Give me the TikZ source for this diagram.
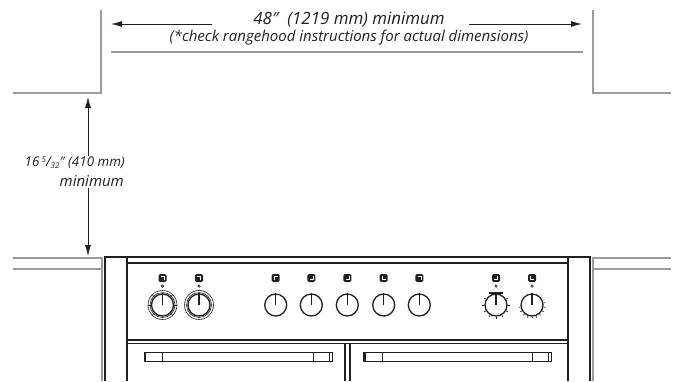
\documentclass[tikz,border=0pt]{standalone}
\usepackage{fontspec}
\setmainfont{Open Sans}
\usetikzlibrary{arrows.meta,calc}
\definecolor{wallgray}{HTML}{9A9B9D}
\definecolor{inkdark}{HTML}{231F20}
\begin{document}
\begin{tikzpicture}[x=1pt,y=-1pt]
\tikzset{wall/.style = {draw=wallgray,line width=2pt}}
\tikzset{body/.style = {draw=inkdark,line width=1.6pt}}
\tikzset{thin body/.style = {draw=inkdark,line width=1pt}}
\tikzset{dim/.style = {-{Latex[length=11pt,width=6pt]},draw=inkdark,line width=0.9pt}}
\tikzset{lbl/.style = {text=inkdark,inner sep=0pt}}
\tikzset{knob/.style = {shape=circle,draw=inkdark,line width=1.3pt,minimum size=22pt,inner sep=0pt}}
\tikzset{ring/.style = {shape=circle,draw=inkdark,line width=0.6pt,minimum size=29pt,inner sep=0pt}}
\tikzset{symbol/.style = {shape=rectangle,rounded corners=1.5pt,fill=inkdark,minimum size=8pt,inner sep=0pt}}
\tikzset{pip/.style = {shape=circle,draw=inkdark,line width=0.7pt,minimum size=2.5pt,inner sep=0pt}}
\useasboundingbox (0,0) rectangle (684,381);
% walls
\draw[wall] (101,10) -- (101,93) -- (13,93);
\draw[wall] (593,10) -- (593,93) -- (671,93);
\draw[wall] (111,52) -- (583,52);
\draw[wall] (13,258) -- (102,258) -- (102,381);
\draw[wall] (13,269) -- (102,269);
\draw[wall] (593,381) -- (593,258) -- (671,258);
\draw[wall] (593,269) -- (671,269);
% labels
\node[lbl,font=\itshape\fontsize{16.9}{17}\selectfont] (wide) at (349,20) {48″\ \ (1219 mm) minimum};
\node[lbl,font=\itshape\fontsize{15}{17}\selectfont] (note) at (349,38) {(*check rangehood instructions for actual dimensions)};
\node[lbl,font=\itshape\fontsize{13.4}{17}\selectfont,anchor=east] (high) at (125,163) {16\,\raisebox{4pt}{\fontsize{8}{10}\selectfont 5}/\raisebox{-2pt}{\fontsize{8}{10}\selectfont 32}″ (410 mm)};
\node[lbl,font=\itshape\fontsize{15}{17}\selectfont,anchor=east] (min) at (124,181) {minimum};
% dimension arrows
\coordinate (wl) at (111,24);
\coordinate (wr) at (582,24);
\coordinate (wlt) at (212,24);
\coordinate (wrt) at (469,24);
\coordinate (ht) at (88,97);
\coordinate (hb) at (88,256);
\draw[dim] (wlt) to (wl);
\draw[dim] (wrt) to (wr);
\draw[dim] ($(ht |- high.north)+(0,-1)$) to (ht);
\draw[dim] ($(hb |- min.south)+(0,1)$) to (hb);
% range body
\draw[body] (105,381) -- (105,257) -- (590,257) -- (590,381);
\draw[body] (127,381) -- (127,257);
\draw[body] (568,381) -- (568,257);
\draw[body] (127,263) -- (568,263);
\draw[body] (127,340) -- (568,340);
\draw[thin body] (127,343.5) -- (568,343.5);
\draw[body] (345,344) -- (345,381);
\draw[body] (350,344) -- (350,381);
% handles
\draw[thin body] (144,352) rectangle (332,361);
\draw[thin body] (363,352) rectangle (551,361);
\fill[inkdark] (144,352) rectangle (146,361);
\draw[thin body] (329,352) -- (329,361);
\fill[inkdark] (363,352) rectangle (365.5,361);
\draw[thin body] (548,352) -- (548,361);
\draw[thin body] (162,352) -- (162,361);
\draw[thin body] (313,352) -- (313,361);
\draw[thin body] (382,352) -- (382,361);
\draw[thin body] (532,352) -- (532,361);
% knobs
\foreach \name/\xpos/\sx/\sy in {a/162.5/1/-1,b/199/1/-1,c/275.7/-1/-1,d/311.3/1/1,e/347.3/1/1,f/383.7/-1/1,g/419.3/1/-1,h/496/1/1,i/532/-1/1}{
  \node[knob] (\name) at (\xpos,305) {};
  \draw[inkdark,line width=1.1pt] (\name.center) -- (\name.north);
  \node[symbol] (\name s) at (\xpos,278) {};
  \draw[white,line width=0.7pt] ([shift={(-\sx*1.8,\sy*1.8)}]\name s.center) -- ([shift={(\sx*1.8,\sy*1.8)}]\name s.center) -- ([shift={(\sx*1.8,-\sy*1.8)}]\name s.center);
}
\foreach \name in {a,b,h,i}{
  \node[pip] (\name m) at ([shift={(0,8)}]\name s.center) {};
}
\node[ring] (ra) at (a) {};
\node[ring] (rb) at (b) {};
\node[shape=circle,draw=inkdark,line width=0.6pt,minimum size=25pt,inner sep=0pt] (qa) at (a) {};
\node[shape=circle,draw=inkdark,line width=0.6pt,minimum size=25pt,inner sep=0pt] (qb) at (b) {};
\foreach \ang in {0,45,135,180,225,315}{
  \draw[inkdark,line width=0.6pt] (a.\ang) -- (ra.\ang);
}
\draw[inkdark,line width=1.6pt] ([shift={(-7,-0.5)}]h.north) -- ([shift={(7,-0.5)}]h.north);
\foreach \ang in {-30,0,30,150,180,210,240,270,300}{
  \draw[inkdark,line width=0.7pt] (h.\ang) -- ($(h.center)!1.2!(h.\ang)$);
}
\foreach \ang in {-30,-10,10,190,210,230,250,270,290,310}{
  \draw[inkdark,line width=0.7pt] (i.\ang) -- ($(i.center)!1.15!(i.\ang)$);
}
\end{tikzpicture}
\end{document}
